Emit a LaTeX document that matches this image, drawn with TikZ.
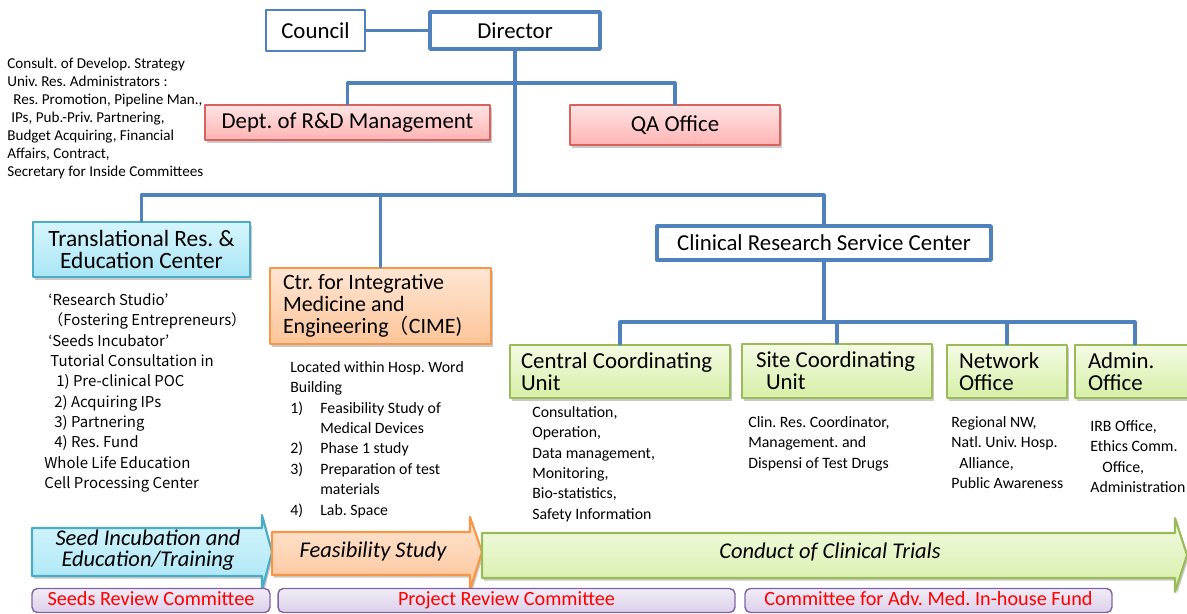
\documentclass[tikz,border=0pt]{standalone}
\usepackage{fontspec}
\setmainfont{Carlito}
\newfontfamily\cjk{Noto Sans CJK JP}
\usetikzlibrary{shadows}
\frenchspacing
\definecolor{linkblue}{HTML}{4F81BD}
\definecolor{redline}{HTML}{D9625E}
\definecolor{redtop}{HTML}{FFE3E3}
\definecolor{redbot}{HTML}{FFB4B4}
\definecolor{cyanline}{HTML}{4BACC6}
\definecolor{cyantop}{HTML}{D6F5FC}
\definecolor{cyanbot}{HTML}{A9E6F6}
\definecolor{orangeline}{HTML}{F79646}
\definecolor{orangetop}{HTML}{FFE6D4}
\definecolor{orangebot}{HTML}{FCC498}
\definecolor{greenline}{HTML}{9BBB59}
\definecolor{greentop}{HTML}{F4FBE4}
\definecolor{greenbot}{HTML}{D6EFA6}
\definecolor{purpleline}{HTML}{8064A2}
\definecolor{purpletop}{HTML}{F1ECF7}
\definecolor{purplebot}{HTML}{DCD0EA}
\definecolor{textred}{HTML}{FF0000}

\begin{document}
\begin{tikzpicture}[line cap=round,line join=round,x=0.02cm,y=-0.02cm,
  link/.style={draw=linkblue,line width=1.8pt},
  shade/.style={drop shadow={shadow xshift=1pt,shadow yshift=-1.5pt,opacity=0.3,fill=black!70}},
  whitebox/.style={draw=linkblue,line width=2pt,fill=white,inner sep=0pt,font=\fontsize{13}{14}\selectfont},
  redbox/.style={shade,draw=redline,line width=0.8pt,top color=redtop,bottom color=redbot,inner sep=0pt,font=\fontsize{13}{14}\selectfont},
  greenbox/.style={shade,draw=greenline,line width=1.2pt,top color=greentop,bottom color=greenbot,align=flush left,font=\fontsize{13}{12.5}\selectfont},
  committee/.style={draw=purpleline,line width=0.8pt,rounded corners=3pt,top color=purpletop,bottom color=purplebot,text=textred,inner sep=0pt,minimum height=0.48cm,text height=8pt,text depth=2.5pt,font=\fontsize{11.5}{12}\selectfont},
  note/.style={anchor=north west,align=left,inner sep=0pt,font=\fontsize{9}{11.6}\selectfont},
  phase/.style={font=\fontsize{12.8}{11.8}\selectfont\itshape,align=center}]
\useasboundingbox (0,0) rectangle (1187,613);
\clip (0,0) rectangle (1187,613);

% top of the chart
\node [draw=linkblue,line width=0.8pt,fill=white,minimum width=1.98cm,minimum height=0.82cm,inner sep=0pt,font=\fontsize{13}{14}\selectfont] (council) at (315.5,30.5) {Council};
\node [whitebox,minimum width=3.4cm,minimum height=0.74cm] (director) at (515,30.5) {Director};
\node [redbox,minimum width=5.7cm,minimum height=0.7cm] (dept) at (347.5,122.5) {Dept. of R\&D Management};
\node [redbox,minimum width=4.2cm,minimum height=0.8cm] (qa) at (675,125) {QA Office};
\coordinate (dirhub) at (515,83);
\coordinate (mainhub) at (515,195);
\draw [link] (council) -- (director);
\draw [link] (director) -- (mainhub);
\draw [link] (dept.north) |- (dirhub) -| (qa.north);

\node [note,font=\fontsize{8.6}{10.2}\selectfont] (deptnote) at (7,58) {Consult. of Develop. Strategy\\
Univ. Res. Administrators :\\
\hspace*{0.12cm}Res. Promotion, Pipeline Man.,\\
\hspace*{0.08cm}IPs, Pub.-Priv. Partnering,\\
Budget Acquiring, Financial\\
Affairs, Contract,\\
Secretary for Inside Committees};

% centers
\node [shade,draw=cyanline,line width=1.2pt,top color=cyantop,bottom color=cyanbot,minimum width=4.34cm,minimum height=1.1cm,inner sep=0pt,align=center,font=\fontsize{13.3}{12}\selectfont] (trec) at (141.5,249.5) {Translational Res. \&\\Education Center};
\node [shade,draw=orangeline,line width=1.2pt,top color=orangetop,bottom color=orangebot,minimum width=4.42cm,minimum height=1.52cm,inner xsep=0.26cm,text width=3.9cm,align=flush left,font=\fontsize{12.5}{12.4}\selectfont] (cime) at (380.5,306) {Ctr. for Integrative\\Medicine and\\Engineering{\cjk\fontsize{11.5}{12}\selectfont （}CIME)};
\node [whitebox,minimum width=6.68cm,minimum height=0.68cm] (crsc) at (824,243) {Clinical Research Service Center};
\draw [link] (trec.north) |- (mainhub) -| (crsc.north);
\draw [link] (cime.north) |- (mainhub);

\node [note,font=\cjk\fontsize{8.5}{11.6}\selectfont] (trecnote) at (44,293) {\hspace*{0.08cm}‘Research Studio’\\
\hspace*{0.08cm}（Fostering Entrepreneurs）\\
\hspace*{0.08cm}‘Seeds Incubator’\\
\hspace*{0.12cm}Tutorial Consultation in\\
\hspace*{0.24cm}1) Pre-clinical POC\\
\hspace*{0.2cm}2) Acquiring IPs\\
\hspace*{0.2cm}3) Partnering\\
\hspace*{0.2cm}4) Res. Fund\\
Whole Life Education\\
Cell Processing Center};

\node [note] (cimenote) at (290,361) {Located within Hosp. Word\\
Building\\
\makebox[0.6cm][l]{1)}Feasibility Study of\\
\hspace*{0.6cm}Medical Devices\\
\makebox[0.6cm][l]{2)}Phase 1 study\\
\makebox[0.6cm][l]{3)}Preparation of test\\
\hspace*{0.6cm}materials\\
\makebox[0.6cm][l]{4)}Lab. Space};

% units of the clinical research service center
\node [greenbox,minimum width=4.4cm,minimum height=1.06cm,inner xsep=0.22cm,text width=3.96cm] (ccu) at (620,371.5) {Central Coordinating\\Unit};
\node [greenbox,minimum width=3.8cm,minimum height=1.08cm,inner xsep=0.28cm,text width=3.24cm] (scu) at (837,371) {Site Coordinating\\\hspace*{0.2cm}Unit};
\node [greenbox,minimum width=2.4cm,minimum height=1.06cm,inner xsep=0.24cm,text width=1.92cm] (network) at (1007,371.5) {Network\\Office};
\node [greenbox,minimum width=2.4cm,minimum height=1.06cm,inner xsep=0.26cm,text width=1.88cm] (admin) at (1135,371.5) {Admin.\\Office};
\coordinate (unithub) at (crsc.south |- 0,322);
\draw [link] (crsc) -- (unithub);
\draw [link] (ccu.north) |- (unithub) -| (admin.north);
\draw [link] (scu.north) |- (unithub);
\draw [link] (network.north) |- (unithub);

\node [note] (ccunote) at (532,406) {Consultation,\\Operation,\\Data management,\\Monitoring,\\Bio-statistics,\\Safety Information};
\node [note] (scunote) at (748,416) {Clin. Res. Coordinator,\\Management. and\\Dispensi of Test Drugs};
\node [note] (networknote) at (951,416) {Regional NW,\\Natl. Univ. Hosp.\\\hspace*{0.16cm}Alliance,\\Public Awareness};
\node [note] (adminnote) at (1090,420) {IRB Office,\\Ethics Comm.\\\hspace*{0.24cm}Office,\\Administration};

% phases
\draw [shade,draw=cyanline,line width=1.2pt,top color=cyantop,bottom color=cyanbot] (32,528) -- (262,528) -- (262,515) -- (272,552) -- (262,590) -- (262,576) -- (32,576) -- cycle;
\draw [shade,draw=orangeline,line width=1.2pt,top color=orangetop,bottom color=orangebot] (272,532) -- (470,532) -- (470,517) -- (482,552) -- (470,590) -- (470,575) -- (272,575) -- cycle;
\draw [shade,draw=greenline,line width=1.2pt,top color=greentop,bottom color=greenbot] (482,533) -- (1175,533) -- (1175,518) -- (1187,555) -- (1175,592) -- (1175,578) -- (482,578) -- cycle;
\node [phase] (seedphase) at (148,550) {Seed Incubation and\\Education/Training};
\node [phase] (feasphase) at (373,551) {Feasibility Study};
\node [phase] (trialphase) at (830,552) {Conduct of Clinical Trials};

% review committees
\node [committee,minimum width=4.76cm] (seedrev) at (151,600.5) {Seeds Review Committee};
\node [committee,minimum width=9.14cm] (projrev) at (506.5,600.5) {Project Review Committee};
\node [committee,minimum width=7.34cm] (fundrev) at (928.5,600.5) {Committee for Adv. Med. In-house Fund};
\end{tikzpicture}
\end{document}
